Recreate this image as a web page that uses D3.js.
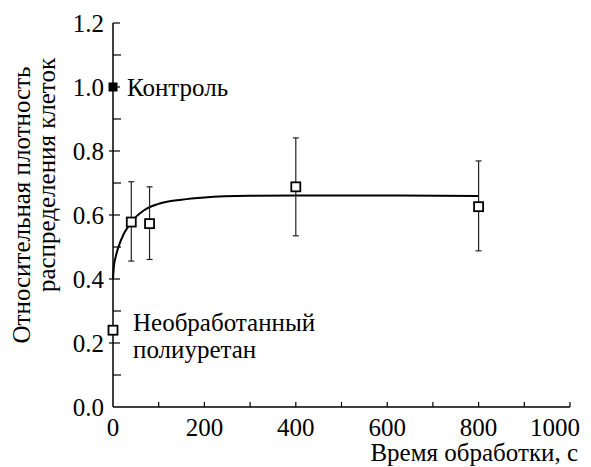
<!DOCTYPE html>
<html>
<head>
<meta charset="utf-8">
<script src="https://cdn.jsdelivr.net/npm/d3@7"></script>
<style>
    body { margin: 0; background: #fff; font-family: "Times New Roman", "Liberation Serif", serif; }
    text { font-family: "Times New Roman", "Liberation Serif", Tinos, serif !important; }
</style>
</head>
<body>
<div id="chart"></div>
<script>
// Экспериментальные точки (открытые квадраты)
const pointTime = [0, 40, 80, 400, 800];
const pointValue = [0.24, 0.578, 0.573, 0.688, 0.626];
const errLow = [null, 0.456, 0.461, 0.535, 0.488];
const errHigh = [null, 0.704, 0.688, 0.841, 0.769];

// Контроль
const controlTime = [0];
const controlValue = [1.0];

// Аппроксимирующая кривая
const curveTime = [0, 2, 6, 17, 39, 68, 98, 150, 200, 300, 400, 600, 800];
const curveValue = [0.40, 0.44, 0.47, 0.52, 0.576, 0.615, 0.634, 0.648, 0.655, 0.66, 0.661, 0.661, 0.659];

const xTicks = [0, 200, 400, 600, 800, 1000];
const xMinorTicks = [100, 300, 500, 700, 900];
const yTicks = [0.0, 0.2, 0.4, 0.6, 0.8, 1.0, 1.2];
const yMinorTicks = [0.1, 0.3, 0.5, 0.7, 0.9, 1.1];

const width = 591;
const height = 467;

const x = d3.scaleLinear().domain([0, 1000]).range([113, 570]);
const y = d3.scaleLinear().domain([0, 1.2]).range([407, 23]);

const svg = d3.select('#chart').append('svg')
    .attr('width', width)
    .attr('height', height)
    .attr('font-family', 'Times New Roman');

// Вспомогательная функция для текста
function addText(xPos, yPos, str, anchor) {
    return svg.append('text')
        .attr('x', xPos)
        .attr('y', yPos)
        .attr('font-size', 25)
        .attr('font-family', 'Times New Roman')
        .attr('text-anchor', anchor || 'start')
        .text(str);
}

// Оси
svg.append('line')
    .attr('x1', x(0)).attr('x2', x(0))
    .attr('y1', y(0)).attr('y2', y(1.2))
    .attr('stroke', 'black').attr('stroke-width', 1.5);
svg.append('line')
    .attr('x1', x(0)).attr('x2', x(1000))
    .attr('y1', y(0)).attr('y2', y(0))
    .attr('stroke', 'black').attr('stroke-width', 1.5);

// Деления оси Y
svg.selectAll('.ytick')
    .data(yTicks.filter(d => d > 0))
    .enter().append('line')
    .attr('x1', d => d === 1.2 ? x(0) : x(0) - 4)
    .attr('x2', x(0) + 7)
    .attr('y1', d => y(d)).attr('y2', d => y(d))
    .attr('stroke', 'black').attr('stroke-width', 1.2);
svg.selectAll('.yminor')
    .data(yMinorTicks)
    .enter().append('line')
    .attr('x1', x(0)).attr('x2', x(0) + 8)
    .attr('y1', d => y(d)).attr('y2', d => y(d))
    .attr('stroke', 'black').attr('stroke-width', 1.2);

yTicks.forEach(d => {
    addText(x(0) - 9, y(d), d.toFixed(1), 'end').attr('dy', '0.35em');
});

// Деления оси X
svg.selectAll('.xtick')
    .data(xTicks.concat(xMinorTicks).filter(d => d > 0))
    .enter().append('line')
    .attr('x1', d => x(d)).attr('x2', d => x(d))
    .attr('y1', y(0)).attr('y2', y(0) - 5)
    .attr('stroke', 'black').attr('stroke-width', 1.2);

xTicks.forEach(d => {
    if (d === 1000) {
        addText(x(d) + 10, 436, String(d), 'end');
    } else {
        addText(x(d), 436, String(d), 'middle');
    }
});

// Подписи осей
addText(578, 461, 'Время обработки, с', 'end');

addText(0, 0, 'Относительная плотность', 'middle')
    .attr('transform', 'translate(30,205) rotate(-90)');
addText(0, 0, 'распределения клеток', 'middle')
    .attr('transform', 'translate(55,175) rotate(-90)');

// Кривая
const line = d3.line()
    .x(d => x(d[0]))
    .y(d => y(d[1]))
    .curve(d3.curveMonotoneX);
svg.append('path')
    .datum(curveTime.map((t, i) => [t, curveValue[i]]))
    .attr('d', line)
    .attr('fill', 'none')
    .attr('stroke', 'black')
    .attr('stroke-width', 2);

// Погрешности
const points = pointTime.map((t, i) => ({ t, v: pointValue[i], lo: errLow[i], hi: errHigh[i] }));
const withErr = points.filter(d => d.lo !== null);
svg.selectAll('.err')
    .data(withErr)
    .enter().append('line')
    .attr('x1', d => x(d.t)).attr('x2', d => x(d.t))
    .attr('y1', d => y(d.lo)).attr('y2', d => y(d.hi))
    .attr('stroke', '#222').attr('stroke-width', 1.2);
svg.selectAll('.capHi')
    .data(withErr)
    .enter().append('line')
    .attr('x1', d => x(d.t) - 3).attr('x2', d => x(d.t) + 3)
    .attr('y1', d => y(d.hi)).attr('y2', d => y(d.hi))
    .attr('stroke', '#222').attr('stroke-width', 1.2);
svg.selectAll('.capLo')
    .data(withErr)
    .enter().append('line')
    .attr('x1', d => x(d.t) - 3).attr('x2', d => x(d.t) + 3)
    .attr('y1', d => y(d.lo)).attr('y2', d => y(d.lo))
    .attr('stroke', '#222').attr('stroke-width', 1.2);

// Открытые квадраты
const sq = 9;
svg.selectAll('.pt')
    .data(points)
    .enter().append('rect')
    .attr('x', d => x(d.t) - sq / 2)
    .attr('y', d => y(d.v) - sq / 2)
    .attr('width', sq).attr('height', sq)
    .attr('fill', 'white')
    .attr('stroke', 'black')
    .attr('stroke-width', 1.8);

// Контроль (закрашенный квадрат)
svg.selectAll('.ctrl')
    .data(controlTime)
    .enter().append('rect')
    .attr('x', (d) => x(d) - sq / 2)
    .attr('y', (d, i) => y(controlValue[i]) - sq / 2)
    .attr('width', sq).attr('height', sq)
    .attr('fill', 'black');

// Надписи
addText(127, y(1.0), 'Контроль').attr('dy', '0.35em');
addText(133, 322, 'Необработанный').attr('dy', '0.35em');
addText(133, 349, 'полиуретан').attr('dy', '0.35em');
</script>
</body>
</html>
